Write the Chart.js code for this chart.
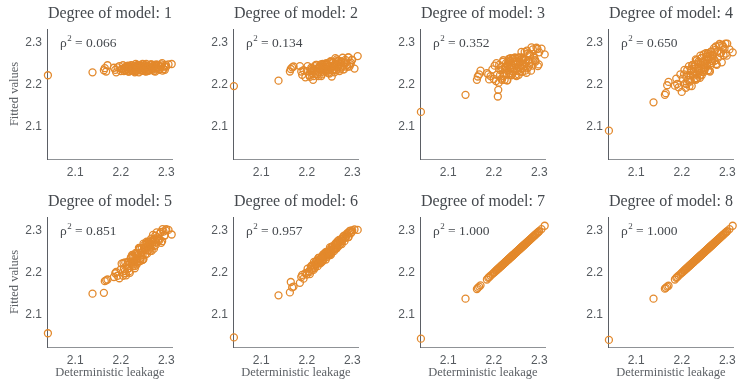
<!DOCTYPE html>
<html>
<head>
<meta charset="utf-8">
<script src="https://cdn.jsdelivr.net/npm/chart.js@4"></script>
<style>
  body { margin: 0; background: #fff; }
  #wrap { position: relative; width: 742px; height: 380px; overflow: hidden; }
  #wrap canvas { position: absolute; }
</style>
</head>
<body>
<div id="wrap"></div>
<script>
// Deterministic leakage (x), shared by every panel
const leakage = [2.040, 2.138, 2.163, 2.165, 2.168, 2.171, 2.185, 2.188,
  2.190, 2.193, 2.197, 2.200, 2.202, 2.205, 2.207, 2.209, 2.210, 2.212,
  2.214, 2.216, 2.218, 2.219, 2.221, 2.222, 2.224, 2.225, 2.227, 2.228,
  2.230, 2.231, 2.233, 2.234, 2.236, 2.237, 2.239, 2.240, 2.242, 2.243,
  2.245, 2.246, 2.248, 2.249, 2.251, 2.252, 2.254, 2.255, 2.257, 2.258,
  2.260, 2.262, 2.263, 2.265, 2.267, 2.268, 2.270, 2.272, 2.274, 2.276,
  2.278, 2.280, 2.283, 2.285, 2.288, 2.291, 2.294, 2.297, 2.300, 2.305, 2.312,
  2.206, 2.211, 2.215, 2.217, 2.220, 2.223, 2.226, 2.229, 2.232, 2.235,
  2.238, 2.241, 2.244, 2.247, 2.250, 2.253, 2.256, 2.259, 2.261, 2.264,
  2.266, 2.269, 2.271, 2.273, 2.275, 2.277, 2.279, 2.282, 2.286, 2.289,
  2.292, 2.296, 2.299, 2.226, 2.233, 2.241, 2.248, 2.255, 2.262, 2.243,
  2.250, 2.237, 2.258, 2.231, 2.266];

// Fitted values, one list per model degree
const fitted1 = [2.223, 2.230, 2.235, 2.240, 2.232, 2.247, 2.241, 2.236,
  2.230, 2.242, 2.245, 2.233, 2.238, 2.247, 2.233, 2.241, 2.235, 2.244,
  2.238, 2.246, 2.232, 2.240, 2.243, 2.235, 2.246, 2.238, 2.242, 2.239,
  2.236, 2.245, 2.233, 2.242, 2.236, 2.248, 2.239, 2.230, 2.246, 2.240,
  2.235, 2.244, 2.250, 2.234, 2.241, 2.238, 2.247, 2.232, 2.242, 2.245,
  2.236, 2.234, 2.242, 2.247, 2.239, 2.249, 2.236, 2.241, 2.246, 2.232,
  2.249, 2.241, 2.247, 2.236, 2.244, 2.252, 2.238, 2.236, 2.244, 2.249, 2.250,
  2.239, 2.235, 2.245, 2.232, 2.241, 2.247, 2.234, 2.240, 2.232, 2.244,
  2.247, 2.238, 2.246, 2.234, 2.245, 2.239, 2.250, 2.233, 2.243, 2.236,
  2.249, 2.239, 2.245, 2.233, 2.247, 2.237, 2.242, 2.248, 2.238, 2.249,
  2.234, 2.244, 2.248, 2.238, 2.250, 2.235, 2.244, 2.233, 2.242, 2.248,
  2.234, 2.238, 2.245, 2.230, 2.248];
const fitted2 = [2.197, 2.210, 2.232, 2.238, 2.242, 2.244, 2.245, 2.232,
  2.224, 2.235, 2.218, 2.233, 2.245, 2.224, 2.219, 2.233, 2.241, 2.228,
  2.212, 2.239, 2.245, 2.226, 2.234, 2.248, 2.225, 2.239, 2.230, 2.244,
  2.234, 2.249, 2.225, 2.239, 2.244, 2.230, 2.249, 2.235, 2.243, 2.238,
  2.234, 2.248, 2.229, 2.245, 2.236, 2.256, 2.240, 2.220, 2.253, 2.243,
  2.236, 2.250, 2.264, 2.235, 2.248, 2.242, 2.258, 2.233, 2.251, 2.256,
  2.242, 2.237, 2.252, 2.260, 2.247, 2.266, 2.244, 2.253, 2.260, 2.239, 2.269,
  2.222, 2.238, 2.221, 2.235, 2.248, 2.225, 2.231, 2.244, 2.221, 2.250,
  2.238, 2.233, 2.250, 2.229, 2.245, 2.256, 2.235, 2.246, 2.230, 2.251,
  2.257, 2.242, 2.257, 2.237, 2.256, 2.246, 2.265, 2.237, 2.254, 2.243,
  2.266, 2.249, 2.260, 2.221, 2.247, 2.233, 2.243, 2.255, 2.238, 2.252,
  2.227, 2.242, 2.253, 2.235, 2.261];
const fitted3 = [2.135, 2.176, 2.212, 2.220, 2.225, 2.234, 2.228, 2.225,
  2.213, 2.221, 2.237, 2.214, 2.246, 2.209, 2.224, 2.172, 2.188, 2.248,
  2.224, 2.243, 2.212, 2.237, 2.259, 2.221, 2.212, 2.237, 2.252, 2.228,
  2.211, 2.247, 2.258, 2.224, 2.239, 2.264, 2.223, 2.248, 2.231, 2.256,
  2.240, 2.265, 2.224, 2.249, 2.257, 2.233, 2.265, 2.241, 2.256, 2.246,
  2.240, 2.266, 2.231, 2.260, 2.244, 2.279, 2.252, 2.229, 2.275, 2.259,
  2.246, 2.271, 2.290, 2.246, 2.268, 2.259, 2.289, 2.245, 2.278, 2.287, 2.273,
  2.252, 2.205, 2.235, 2.215, 2.255, 2.225, 2.244, 2.211, 2.254, 2.228,
  2.243, 2.262, 2.232, 2.265, 2.221, 2.254, 2.266, 2.247, 2.279, 2.239,
  2.264, 2.234, 2.260, 2.282, 2.241, 2.252, 2.274, 2.234, 2.285, 2.265,
  2.256, 2.286, 2.249, 2.241, 2.262, 2.227, 2.248, 2.224, 2.262, 2.263,
  2.239, 2.257, 2.232, 2.250, 2.250];
const fitted4 = [2.090, 2.158, 2.176, 2.180, 2.199, 2.207, 2.198, 2.215,
  2.202, 2.194, 2.225, 2.183, 2.215, 2.225, 2.203, 2.193, 2.219, 2.235,
  2.212, 2.245, 2.208, 2.223, 2.236, 2.197, 2.248, 2.225, 2.244, 2.214,
  2.239, 2.261, 2.225, 2.215, 2.241, 2.256, 2.233, 2.217, 2.253, 2.264,
  2.231, 2.246, 2.273, 2.231, 2.257, 2.241, 2.267, 2.251, 2.276, 2.235,
  2.262, 2.270, 2.246, 2.280, 2.257, 2.272, 2.263, 2.258, 2.284, 2.250,
  2.280, 2.265, 2.298, 2.276, 2.254, 2.292, 2.287, 2.275, 2.299, 2.285, 2.278,
  2.236, 2.202, 2.223, 2.197, 2.234, 2.247, 2.222, 2.249, 2.216, 2.251,
  2.236, 2.270, 2.223, 2.254, 2.235, 2.276, 2.247, 2.267, 2.234, 2.279,
  2.252, 2.269, 2.288, 2.258, 2.292, 2.248, 2.281, 2.294, 2.276, 2.296,
  2.271, 2.299, 2.270, 2.232, 2.259, 2.224, 2.241, 2.268, 2.232, 2.264,
  2.249, 2.228, 2.274, 2.212, 2.270];
const fitted5 = [2.055, 2.150, 2.152, 2.180, 2.182, 2.184, 2.190, 2.199,
  2.202, 2.193, 2.187, 2.208, 2.222, 2.193, 2.210, 2.204, 2.225, 2.194,
  2.219, 2.226, 2.211, 2.204, 2.224, 2.235, 2.219, 2.243, 2.217, 2.228,
  2.238, 2.211, 2.248, 2.232, 2.246, 2.225, 2.244, 2.260, 2.235, 2.228,
  2.248, 2.259, 2.243, 2.232, 2.259, 2.267, 2.244, 2.255, 2.275, 2.246,
  2.265, 2.255, 2.273, 2.263, 2.282, 2.253, 2.273, 2.280, 2.264, 2.289,
  2.273, 2.285, 2.281, 2.278, 2.298, 2.276, 2.299, 2.290, 2.305, 2.303, 2.292,
  2.224, 2.199, 2.210, 2.227, 2.200, 2.238, 2.226, 2.222, 2.245, 2.220,
  2.243, 2.259, 2.234, 2.250, 2.233, 2.261, 2.271, 2.254, 2.274, 2.252,
  2.276, 2.267, 2.291, 2.258, 2.280, 2.267, 2.297, 2.277, 2.294, 2.272,
  2.305, 2.289, 2.302, 2.241, 2.226, 2.256, 2.231, 2.260, 2.275, 2.241,
  2.270, 2.227, 2.266, 2.216, 2.269];
const fitted6 = [2.045, 2.146, 2.153, 2.178, 2.165, 2.167, 2.176, 2.190,
  2.195, 2.186, 2.199, 2.196, 2.210, 2.204, 2.197, 2.215, 2.210, 2.207,
  2.218, 2.226, 2.212, 2.220, 2.219, 2.229, 2.216, 2.227, 2.232, 2.224,
  2.223, 2.232, 2.239, 2.232, 2.244, 2.232, 2.239, 2.244, 2.232, 2.250,
  2.244, 2.251, 2.242, 2.251, 2.261, 2.248, 2.247, 2.256, 2.263, 2.256,
  2.252, 2.266, 2.270, 2.260, 2.267, 2.276, 2.264, 2.274, 2.270, 2.281,
  2.277, 2.287, 2.276, 2.286, 2.292, 2.286, 2.300, 2.295, 2.302, 2.304, 2.303,
  2.202, 2.218, 2.207, 2.219, 2.226, 2.222, 2.236, 2.224, 2.236, 2.228,
  2.239, 2.249, 2.238, 2.245, 2.255, 2.243, 2.263, 2.259, 2.257, 2.270,
  2.259, 2.271, 2.279, 2.268, 2.276, 2.269, 2.283, 2.289, 2.284, 2.295,
  2.286, 2.301, 2.298, 2.236, 2.226, 2.243, 2.243, 2.263, 2.260, 2.247,
  2.242, 2.243, 2.254, 2.232, 2.273];
const fitted7 = [2.042, 2.138, 2.161, 2.164, 2.167, 2.170, 2.184, 2.188,
  2.190, 2.193, 2.197, 2.200, 2.202, 2.205, 2.207, 2.209, 2.210, 2.212,
  2.214, 2.216, 2.218, 2.219, 2.221, 2.222, 2.224, 2.225, 2.227, 2.228,
  2.230, 2.231, 2.233, 2.234, 2.236, 2.237, 2.239, 2.240, 2.242, 2.243,
  2.245, 2.246, 2.248, 2.249, 2.251, 2.252, 2.254, 2.255, 2.257, 2.258,
  2.260, 2.262, 2.263, 2.265, 2.267, 2.268, 2.270, 2.272, 2.274, 2.276,
  2.278, 2.280, 2.283, 2.285, 2.288, 2.291, 2.294, 2.297, 2.300, 2.305, 2.313,
  2.206, 2.211, 2.215, 2.217, 2.220, 2.223, 2.226, 2.229, 2.232, 2.235,
  2.238, 2.241, 2.244, 2.247, 2.250, 2.253, 2.256, 2.259, 2.261, 2.264,
  2.266, 2.269, 2.271, 2.273, 2.275, 2.277, 2.279, 2.282, 2.286, 2.289,
  2.292, 2.296, 2.299, 2.226, 2.233, 2.241, 2.248, 2.255, 2.262, 2.243,
  2.250, 2.237, 2.258, 2.231, 2.266];
const fitted8 = [2.039, 2.138, 2.162, 2.164, 2.167, 2.169, 2.184, 2.188,
  2.190, 2.193, 2.197, 2.200, 2.202, 2.205, 2.207, 2.209, 2.210, 2.212,
  2.214, 2.216, 2.218, 2.219, 2.221, 2.222, 2.224, 2.225, 2.227, 2.228,
  2.230, 2.231, 2.233, 2.234, 2.236, 2.237, 2.239, 2.240, 2.242, 2.243,
  2.245, 2.246, 2.248, 2.249, 2.251, 2.252, 2.254, 2.255, 2.257, 2.258,
  2.260, 2.262, 2.263, 2.265, 2.267, 2.268, 2.270, 2.272, 2.274, 2.276,
  2.278, 2.280, 2.283, 2.285, 2.288, 2.291, 2.294, 2.297, 2.300, 2.305, 2.313,
  2.206, 2.211, 2.215, 2.217, 2.220, 2.223, 2.226, 2.229, 2.232, 2.235,
  2.238, 2.241, 2.244, 2.247, 2.250, 2.253, 2.256, 2.259, 2.261, 2.264,
  2.266, 2.269, 2.271, 2.273, 2.275, 2.277, 2.279, 2.282, 2.286, 2.289,
  2.292, 2.296, 2.299, 2.226, 2.233, 2.241, 2.248, 2.255, 2.262, 2.243,
  2.250, 2.237, 2.258, 2.231, 2.266];

const degrees = [1, 2, 3, 4, 5, 6, 7, 8];
const fittedByDegree = [fitted1, fitted2, fitted3, fitted4, fitted5, fitted6, fitted7, fitted8];
const rhoSq = ['0.066', '0.134', '0.352', '0.650', '0.851', '0.957', '1.000', '1.000'];
const tickVals = [2.1, 2.2, 2.3];

const xMin = 2.038, xMax = 2.3146;
const yMin = 2.022, yMax = 2.334;

const orange = '#e3892c';
const textGrey = '#45494e';
const serif = '"Liberation Serif", "Times New Roman", serif';
const sans = '"Liberation Sans", Arial, sans-serif';

// rho^2 label in the upper left of each panel
const rhoLabel = {
    id: 'rhoLabel',
    afterDatasetsDraw(chart, args, opts) {
        const ctx = chart.ctx;
        const a = chart.chartArea;
        let x = a.left + 13;
        const y = a.top + 18;
        ctx.save();
        ctx.fillStyle = textGrey;
        ctx.textBaseline = 'alphabetic';
        ctx.font = '13.5px ' + serif;
        ctx.fillText('\u03c1', x, y);
        x += ctx.measureText('\u03c1').width + 0.5;
        ctx.font = '9px ' + serif;
        ctx.fillText('2', x, y - 6);
        x += ctx.measureText('2').width;
        ctx.font = '13.5px ' + serif;
        ctx.fillText(' = ' + opts.text, x, y);
        ctx.restore();
    }
};

const wrap = document.getElementById('wrap');
const colLeft = [0, 186, 373, 561];
const rowTop = [0, 188];
const rowHeight = [188, 192];

degrees.forEach((deg, i) => {
    const col = i % 4;
    const row = Math.floor(i / 4);
    const h = rowHeight[row];
    const canvas = document.createElement('canvas');
    canvas.width = 181;
    canvas.height = h;
    canvas.style.left = colLeft[col] + 'px';
    canvas.style.top = rowTop[row] + 'px';
    wrap.appendChild(canvas);

    const fitted = fittedByDegree[i];
    const points = leakage.map((x, k) => ({ x: x, y: fitted[k] }));

    new Chart(canvas.getContext('2d'), {
        type: 'scatter',
        data: {
            datasets: [{
                data: points,
                showLine: false,
                clip: false,
                pointStyle: 'circle',
                pointRadius: 3.5,
                pointBorderWidth: 1.3,
                pointBorderColor: orange,
                pointBackgroundColor: 'rgba(0,0,0,0)'
            }]
        },
        options: {
            responsive: false,
            animation: false,
            layout: { padding: { left: 0, right: 4, top: 0, bottom: 0 } },
            plugins: {
                legend: { display: false },
                tooltip: { enabled: false },
                title: {
                    display: true,
                    text: 'Degree of model: ' + deg,
                    fullSize: false,
                    color: textGrey,
                    font: { family: serif, size: 16, weight: 'normal', lineHeight: 1.2 },
                    padding: { top: 4, bottom: 5.8 }
                },
                rhoLabel: { text: rhoSq[i] }
            },
            scales: {
                x: {
                    type: 'linear',
                    min: xMin,
                    max: xMax,
                    afterFit: s => { s.height = h - 159; },
                    afterBuildTicks: s => { s.ticks = tickVals.map(v => ({ value: v })); },
                    grid: { display: false, drawTicks: false },
                    border: { display: true, color: '#8f9296', width: 1 },
                    ticks: {
                        padding: 6,
                        maxRotation: 0,
                        color: '#555a5f',
                        font: { family: sans, size: 12 },
                        callback: v => v.toFixed(1)
                    },
                    title: {
                        display: row === 1,
                        text: 'Deterministic leakage',
                        color: '#5d6166',
                        font: { family: serif, size: 12.5 },
                        padding: { top: 0, bottom: 0 }
                    }
                },
                y: {
                    type: 'linear',
                    min: yMin,
                    max: yMax,
                    afterFit: s => { s.width = 47; },
                    afterBuildTicks: s => { s.ticks = tickVals.map(v => ({ value: v })); },
                    grid: { display: false, drawTicks: false },
                    border: { display: true, color: '#5b5f65', width: 1 },
                    ticks: {
                        padding: 5,
                        color: '#555a5f',
                        font: { family: sans, size: 12 },
                        callback: v => v.toFixed(1)
                    },
                    title: {
                        display: col === 0,
                        text: 'Fitted values',
                        color: '#5d6166',
                        font: { family: serif, size: 12.5 },
                        padding: { top: 7, bottom: 0 }
                    }
                }
            }
        },
        plugins: [rhoLabel]
    });
});
</script>
</body>
</html>
